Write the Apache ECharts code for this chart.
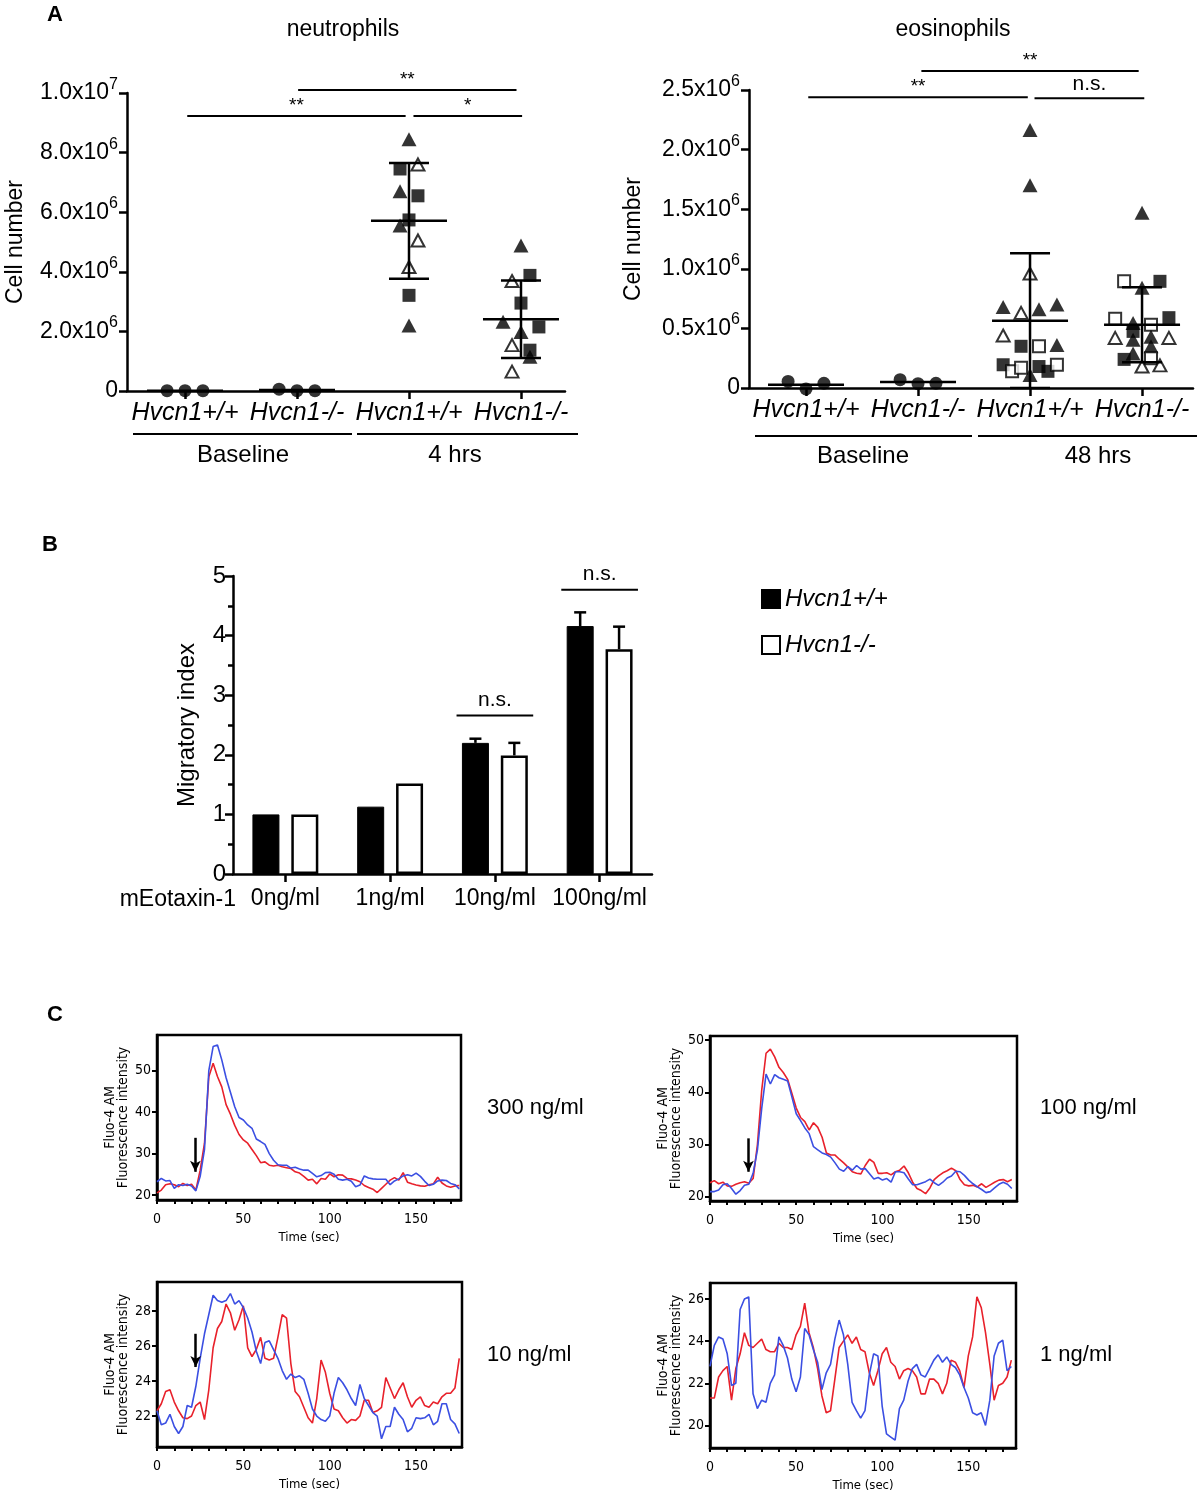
<!DOCTYPE html>
<html><head><meta charset="utf-8">
<script src="https://cdn.jsdelivr.net/npm/echarts@6/dist/echarts.min.js"></script>
<style>html,body{margin:0;padding:0;background:#fff}#c{width:1200px;height:1504px}</style>
</head><body><div id="c"></div>
<script>
const FONT = 'Liberation Sans, Arial, sans-serif';
const NARROW = '"Liberation Sans Narrow", "DejaVu Sans Condensed", sans-serif';

// ---------- Panel A ----------
const groupLabels = ['Hvcn1+/+', 'Hvcn1-/-', 'Hvcn1+/+', 'Hvcn1-/-'];
// [group, column slot, value (x10^6 cells), shape]
const neutPoints = [
  [0,-2,0.01,'fc'],[0,0,0.01,'fc'],[0,2,0.01,'fc'],
  [1,-2,0.06,'fc'],[1,0,0.01,'fc'],[1,2,0.01,'fc'],
  [2,0,8.45,'ft'],[2,-1,7.45,'fs'],[2,1,7.6,'ot'],[2,-1,6.7,'ft'],[2,1,6.55,'fs'],
  [2,0,5.74,'fs'],[2,-1,5.55,'ft'],[2,1,5.05,'ot'],[2,0,4.16,'ot'],[2,0,3.21,'fs'],[2,0,2.2,'ft'],
  [3,0,4.88,'ft'],[3,1,3.88,'fs'],[3,-1,3.69,'ot'],[3,0,2.95,'fs'],[3,-2,2.32,'ft'],
  [3,2,2.15,'fs'],[3,0,1.98,'ft'],[3,-1,1.54,'ot'],[3,1,1.37,'fs'],[3,1,1.15,'ft'],[3,-1,0.65,'ot']
];
// [group, mean, sd]
const neutStats = [[0,0.01,0],[1,0.03,0],[2,5.71,1.94],[3,2.41,1.30]];
// [from, to, y]
const neutSig = [[0.02,1.97,9.23],[1.01,2.96,10.1],[2.04,3.01,9.23]];
const neutSigText = ['**','**','*'];

const eosPoints = [
  [0,-2,0.055,'fc'],[0,0,-0.008,'fc'],[0,2,0.04,'fc'],
  [1,-2,0.07,'fc'],[1,0,0.036,'fc'],[1,2,0.04,'fc'],
  [2,0,2.165,'ft'],[2,0,1.70,'ft'],[2,0,0.96,'ot'],[2,-3,0.68,'ft'],[2,-1,0.63,'ot'],
  [2,1,0.66,'ft'],[2,3,0.70,'ft'],[2,-3,0.44,'ot'],[2,-1,0.35,'fs'],[2,1,0.35,'os'],
  [2,3,0.36,'ft'],[2,-3,0.195,'fs'],[2,-2,0.14,'os'],[2,-1,0.17,'os'],[2,0,0.11,'ft'],
  [2,1,0.18,'fs'],[2,2,0.14,'fs'],[2,3,0.195,'os'],
  [3,0,1.47,'ft'],[3,-2,0.895,'os'],[3,2,0.895,'fs'],[3,0,0.84,'ft'],[3,-3,0.58,'os'],
  [3,3,0.59,'fs'],[3,1,0.53,'os'],[3,-1,0.545,'ft'],[3,-1,0.475,'fs'],[3,-3,0.42,'ot'],
  [3,-1,0.405,'ft'],[3,1,0.43,'ft'],[3,3,0.42,'ot'],[3,1,0.35,'ft'],[3,-1,0.29,'ft'],
  [3,-2,0.24,'fs'],[3,1,0.25,'os'],[3,0,0.18,'ot'],[3,2,0.19,'ot']
];
const eosStats = [[0,0.028,0],[1,0.05,0],[2,0.564,0.566],[3,0.53,0.315]];
const eosSig = [[0.02,1.98,2.44],[1.03,2.97,2.66],[2.04,3.02,2.43]];
const eosSigText = ['**','**','n.s.'];

// ---------- Panel B ----------
const doseLabels = ['0ng/ml','1ng/ml','10ng/ml','100ng/ml'];
const wtIndex = [1.0, 1.13, 2.20, 4.16];
const wtErr = [0, 0, 0.07, 0.23];
const koIndex = [1.0, 1.52, 1.99, 3.77];
const koErr = [0, 0, 0.21, 0.38];
const bSig = [[2,2.66],[3,4.77]];

// ---------- Panel C ----------
const timeSec = [0,2.5,5,7.5,10,12.5,15,17.5,20,22.5,25,27.5,30,32.5,35,37.5,40,42.5,45,47.5,50,52.5,55,57.5,60,62.5,65,67.5,70,72.5,75,77.5,80,82.5,85,87.5,90,92.5,95,97.5,100,102.5,105,107.5,110,112.5,115,117.5,120,122.5,125,127.5,130,132.5,135,137.5,140,142.5,145,147.5,150,152.5,155,157.5,160,162.5,165,167.5,170,172.5,175];
const c300Red = [20.5,21.2,22.5,22.7,22.5,22.0,22.8,22.3,22.6,21.2,
  26.0,32.5,48.5,51.8,48.6,46.1,41.8,39.5,36.8,34.6,
  33.3,32.5,31.0,29.5,27.8,28.0,27.2,27.0,27.2,26.8,
  26.6,26.4,25.6,25.3,24.5,23.6,23.8,22.7,24.0,23.8,
  25.1,24.4,24.9,24.8,24.0,23.9,23.6,23.2,22.3,21.8,
  21.4,20.6,21.6,22.6,23.6,24.2,23.6,25.4,23.1,22.7,
  22.4,22.2,22.1,22.5,22.7,24.3,22.9,22.2,21.9,22.2,22.3];
const c300Blue = [23.2,24.0,23.4,23.5,21.6,22.5,22.3,22.6,22.2,21.0,
  24.5,31.0,50.0,55.8,56.2,52.6,48.3,44.8,41.3,38.7,
  38.1,36.9,36.1,33.5,32.9,32.2,30.0,28.4,27.3,27.2,
  27.2,26.5,26.7,26.3,26.0,26.0,25.2,24.4,24.7,25.4,
  25.5,25.0,23.8,23.6,23.8,23.3,22.0,22.4,24.6,24.1,
  23.9,23.8,23.8,23.8,22.5,23.4,23.9,24.6,24.9,24.6,
  25.3,24.5,23.3,22.3,22.6,23.4,23.6,23.5,22.8,22.5,21.5];
const c100Red = [22.7,23.1,22.5,22.8,22.1,22.0,22.4,22.7,22.9,22.6,
  23.5,30.0,40.5,47.5,48.3,46.8,44.8,43.8,42.5,39.8,
  37.0,35.2,34.4,32.8,34.2,33.3,31.4,28.4,28.0,28.0,
  27.2,26.5,25.7,24.8,24.5,24.4,26.0,27.2,26.6,24.5,
  24.5,24.6,24.2,24.8,25.1,25.9,24.6,22.8,21.6,21.2,
  20.6,21.7,23.3,24.0,24.6,25.0,25.5,25.0,23.3,22.3,
  22.1,22.2,21.9,22.5,21.8,22.3,22.8,23.2,23.3,22.9,23.3];
const c100Blue = [21.0,21.0,21.3,22.3,22.5,21.6,20.5,21.2,22.2,22.4,
  24.5,29.0,37.0,43.5,41.6,43.4,42.8,42.5,42.2,39.1,
  35.9,34.6,33.2,32.1,29.6,29.0,28.4,28.1,27.6,26.5,
  25.3,24.9,25.8,25.1,26.0,25.3,25.4,24.4,23.4,23.7,
  23.2,23.5,22.8,24.8,24.8,24.6,23.4,22.3,22.3,22.6,
  22.9,23.4,22.7,22.2,22.8,23.6,24.0,24.9,24.8,24.1,
  23.2,22.5,21.9,21.4,20.8,21.0,21.7,22.4,22.8,22.4,21.6];
const c10Red = [22.3,22.7,23.4,23.5,22.8,22.3,21.9,21.85,22.0,22.6,
  22.8,21.8,23.5,25.9,27.0,27.4,28.4,27.9,26.9,27.5,
  28.3,25.9,25.4,25.8,26.5,25.3,25.2,25.3,26.5,27.8,
  27.6,25.0,23.4,23.1,22.5,21.9,21.6,23.0,25.2,24.5,
  23.3,22.4,22.3,21.9,21.6,21.8,21.75,22.0,22.9,22.9,
  22.2,22.3,22.5,24.2,23.6,23.0,23.5,23.9,23.1,22.5,
  22.9,23.1,22.6,22.5,22.8,22.7,23.1,23.3,23.3,23.6,25.3];
const c10Blue = [22.3,21.5,21.6,22.1,21.4,21.0,21.4,22.6,22.5,23.7,
  25.3,26.7,27.8,28.9,28.6,28.5,28.6,29.0,28.4,28.6,
  28.2,27.6,26.8,25.7,25.0,26.2,26.3,25.8,25.3,24.6,
  24.1,24.4,24.2,24.3,24.1,23.3,22.4,22.0,21.8,21.7,
  22.0,23.3,24.2,23.9,23.5,23.0,22.6,23.8,23.0,22.6,
  22.2,22.0,20.7,21.4,21.4,22.5,22.1,21.8,21.1,21.3,
  21.9,21.85,21.9,22.1,21.5,21.7,22.7,22.7,21.8,21.55,21.0];
const c1Red = [21.3,21.3,22.3,22.6,22.8,21.2,22.7,23.4,24.4,23.8,
  23.7,23.9,24.1,23.6,23.5,23.5,23.9,23.7,23.7,23.6,
  24.3,24.7,25.8,24.4,23.7,22.7,21.4,20.6,20.7,22.2,
  23.7,24.0,24.3,23.9,24.2,23.6,23.5,22.5,21.9,22.6,
  23.4,23.7,23.0,22.8,22.2,22.6,22.7,22.6,22.3,21.5,
  21.5,22.2,22.2,22.0,21.5,22.0,23.1,23.0,22.6,21.8,
  23.3,24.2,26.1,25.6,24.4,22.9,21.2,21.9,22.0,22.3,23.1];
const c1Blue = [22.8,23.8,24.2,24.1,23.4,21.9,22.0,25.5,26.0,26.1,
  21.5,20.8,21.2,21.1,22.0,22.4,24.2,23.8,23.2,22.2,
  21.6,22.3,24.6,24.3,23.6,23.0,21.7,22.5,22.9,24.1,
  25.0,24.3,22.9,21.1,20.7,20.35,20.7,22.4,23.4,23.3,
  20.9,19.6,19.45,19.3,20.8,21.2,22.1,22.7,22.9,22.4,
  22.3,22.7,23.1,23.35,23.0,23.25,22.9,22.75,22.4,21.8,
  21.3,20.6,20.5,20.6,20.0,21.2,23.3,23.9,24.05,22.6,22.8];
// arrows: [time, from, to]
const arrows = [[22.2,33.8,25.6],[22.3,31.2,24.8],[22.4,26.7,24.8],null];
const cTicksX = [0,10,20,30,40,50,60,70,80,90,100,110,120,130,140,150,160,170];
const cLabelsX = [0,50,100,150];

// ---------- helpers ----------
const SLOT = 0.08;
const SHAPES = {
  fc:{symbol:'circle', size:13, fill:'#000'},
  ft:{symbol:'triangle', size:[15,14], fill:'#000'},
  fs:{symbol:'rect', size:13, fill:'#000'},
  ot:{symbol:'triangle', size:[13,12], fill:'#fff'},
  os:{symbol:'rect', size:12, fill:'#fff'}
};
function pointItems(pts){
  return pts.map(p => {
    const s = SHAPES[p[3]];
    return {value:[p[0] + p[1]*SLOT, p[2]], symbol:s.symbol, symbolSize:s.size,
      itemStyle:{color:s.fill, borderColor:'#000', borderWidth: s.fill === '#fff' ? 2 : 0}};
  });
}
function statsRender(params, api){
  const g = api.value(0), m = api.value(1), sd = api.value(2);
  const c = api.coord([g, m]);
  const st = {stroke:'#000', lineWidth:2.5};
  const ch = [{type:'line', shape:{x1:c[0]-38, y1:c[1], x2:c[0]+38, y2:c[1]}, style:st}];
  if (sd > 0){
    const t = api.coord([g, m+sd]), b = api.coord([g, Math.max(m-sd, 0)]);
    ch.push({type:'line', shape:{x1:c[0], y1:t[1], x2:c[0], y2:b[1]}, style:st});
    ch.push({type:'line', shape:{x1:c[0]-20, y1:t[1], x2:c[0]+20, y2:t[1]}, style:st});
    ch.push({type:'line', shape:{x1:c[0]-20, y1:b[1], x2:c[0]+20, y2:b[1]}, style:st});
  }
  return {type:'group', children:ch};
}
function sigRender(texts){
  return function(params, api){
    const p1 = api.coord([api.value(0), api.value(2)]), p2 = api.coord([api.value(1), api.value(2)]);
    const txt = texts[params.dataIndex];
    const isNs = txt === 'n.s.';
    return {type:'group', children:[
      {type:'line', shape:{x1:p1[0], y1:p1[1], x2:p2[0], y2:p1[1]}, style:{stroke:'#000', lineWidth:2}},
      {type:'text', x:(p1[0]+p2[0])/2, y:p1[1] - (isNs ? 4 : 1), style:{text:txt, fill:'#000',
        fontSize: isNs ? 21 : 19, fontFamily:FONT, align:'center', verticalAlign:'bottom',
        textAlign:'center', textVerticalAlign:'bottom'}}
    ]};
  };
}
function fmtNeut(v){
  if (Math.abs(v) < 1e-9) return '{b|0}';
  if (v >= 9.99) return '{b|' + (v/10).toFixed(1) + 'x10}{s|7}';
  return '{b|' + v.toFixed(1) + 'x10}{s|6}';
}
function fmtEos(v){
  if (Math.abs(v) < 1e-9) return '{b|0}';
  return '{b|' + v.toFixed(1) + 'x10}{s|6}';
}
const RICH = {b:{fontSize:23, fontFamily:FONT, color:'#000'}, s:{fontSize:16, fontFamily:FONT, color:'#000', padding:[0,0,17,0]}};
const AX = {color:'#000', width:2.5};

function aXAxis(gi, min, max){
  return {gridIndex:gi, type:'value', min:min, max:max,
    axisLine:{show:true, onZero:false, lineStyle:AX},
    axisTick:{show:true, customValues:[0,1,2,3], length:8, lineStyle:AX},
    axisLabel:{customValues:[0,1,2,3], formatter:v => groupLabels[Math.round(v)], fontSize:25,
      fontStyle:'italic', color:'#000', fontFamily:FONT, margin:10},
    splitLine:{show:false}};
}
function aYAxis(gi, max, interval, fmt, gap){
  return {gridIndex:gi, type:'value', min:0, max:max, interval:interval,
    axisLine:{show:true, onZero:false, lineStyle:AX},
    axisTick:{show:true, length:8, lineStyle:AX},
    axisLabel:{formatter:fmt, rich:RICH, margin:9},
    splitLine:{show:false},
    name:'Cell number', nameLocation:'middle', nameGap:gap,
    nameTextStyle:{fontSize:23, color:'#000', fontFamily:FONT}};
}

// ---------- Panel C config ----------
const cPanels = [
  {grid:{left:157, top:1035, width:304, height:165}, xmax:176, ymin:18.8, ymax:58.6, yt:[20,30,40,50], red:c300Red, blue:c300Blue},
  {grid:{left:710, top:1036, width:307, height:165}, xmax:178, ymin:19.2, ymax:50.8, yt:[20,30,40,50], red:c100Red, blue:c100Blue},
  {grid:{left:157, top:1282, width:305, height:165}, xmax:176.6, ymin:20.23, ymax:29.66, yt:[22,24,26,28], red:c10Red, blue:c10Blue},
  {grid:{left:710, top:1283, width:306, height:165}, xmax:177.7, ymin:18.93, ymax:26.76, yt:[20,22,24,26], red:c1Red, blue:c1Blue}
];

const grids = [
  {left:127, top:93, width:438, height:298},
  {left:749, top:90, width:444, height:298},
  {left:233, top:576, width:419, height:298}
];
const xAxes = [aXAxis(0, -0.518, 3.393), aXAxis(1, -0.509, 3.455),
  {gridIndex:2, type:'category', data:doseLabels,
    axisLine:{show:true, onZero:false, lineStyle:AX},
    axisTick:{show:true, alignWithLabel:true, length:8, lineStyle:AX},
    axisLabel:{interval:0, fontSize:23, color:'#000', fontFamily:FONT, margin:13}}];
const yAxes = [aYAxis(0, 10, 2, fmtNeut, 100), aYAxis(1, 2.5, 0.5, fmtEos, 104),
  {gridIndex:2, type:'value', min:0, max:5, interval:1,
    axisLine:{show:true, onZero:false, lineStyle:AX},
    axisTick:{show:true, length:8, lineStyle:AX},
    minorTick:{show:true, splitNumber:2, length:5, lineStyle:AX},
    axisLabel:{fontSize:24, color:'#000', fontFamily:FONT, margin:7},
    splitLine:{show:false}, minorSplitLine:{show:false},
    name:'Migratory index', nameLocation:'middle', nameGap:34,
    nameTextStyle:{fontSize:24, color:'#000', fontFamily:FONT}}];

const series = [
  {type:'scatter', xAxisIndex:0, yAxisIndex:0, data:pointItems(neutPoints), clip:false, z:3},
  {type:'custom', xAxisIndex:0, yAxisIndex:0, data:neutStats, renderItem:statsRender, encode:{x:0, y:1}, z:4},
  {type:'custom', xAxisIndex:0, yAxisIndex:0, data:neutSig, renderItem:sigRender(neutSigText), encode:{x:[0,1], y:2}, clip:false},
  {type:'scatter', xAxisIndex:1, yAxisIndex:1, data:pointItems(eosPoints), clip:false, z:3},
  {type:'custom', xAxisIndex:1, yAxisIndex:1, data:eosStats, renderItem:statsRender, encode:{x:0, y:1}, z:4},
  {type:'custom', xAxisIndex:1, yAxisIndex:1, data:eosSig, renderItem:sigRender(eosSigText), encode:{x:[0,1], y:2}, clip:false},
  {name:'Hvcn1+/+', type:'bar', xAxisIndex:2, yAxisIndex:2, data:wtIndex, barWidth:27, barGap:'44%',
    itemStyle:{color:'#000', borderColor:'#000', borderWidth:1}},
  {name:'Hvcn1-/-', type:'bar', xAxisIndex:2, yAxisIndex:2, data:koIndex, barWidth:27, barGap:'44%',
    itemStyle:{color:'#fff', borderColor:'#000', borderWidth:2.5}},
  {type:'custom', xAxisIndex:2, yAxisIndex:2, encode:{x:0, y:1},
    data: wtIndex.map((v,i)=>[i, v, wtErr[i], -1]).concat(koIndex.map((v,i)=>[i, v, koErr[i], 1])),
    renderItem:function(params, api){
      const e = api.value(2); if (!(e > 0)) return null;
      const base = api.coord([api.value(0), api.value(1)]);
      const top = api.coord([api.value(0), api.value(1) + e]);
      const x = base[0] + api.value(3) * 19.45;
      const st = {stroke:'#000', lineWidth:2.5};
      return {type:'group', children:[
        {type:'line', shape:{x1:x, y1:base[1], x2:x, y2:top[1]}, style:st},
        {type:'line', shape:{x1:x-6, y1:top[1], x2:x+6, y2:top[1]}, style:st}]};
    }, z:3},
  {type:'custom', xAxisIndex:2, yAxisIndex:2, encode:{x:0, y:1}, data:bSig, clip:false,
    renderItem:function(params, api){
      const c = api.coord([api.value(0), api.value(1)]);
      const hw = api.size([1, 0])[0] * 0.366;
      return {type:'group', children:[
        {type:'line', shape:{x1:c[0]-hw, y1:c[1], x2:c[0]+hw, y2:c[1]}, style:{stroke:'#000', lineWidth:2}},
        {type:'text', x:c[0], y:c[1]-5, style:{text:'n.s.', fill:'#000', fontSize:21, fontFamily:FONT,
          align:'center', verticalAlign:'bottom', textAlign:'center', textVerticalAlign:'bottom'}}]};
    }}
];

cPanels.forEach((p, k) => {
  const gi = 3 + k;
  grids.push(Object.assign({show:true, borderColor:'#000', borderWidth:2.5, backgroundColor:'rgba(0,0,0,0)'}, p.grid));
  xAxes.push({gridIndex:gi, type:'value', min:0, max:p.xmax,
    axisLine:{show:true, onZero:false, lineStyle:AX},
    axisTick:{show:true, customValues:cTicksX, length:4, lineStyle:{color:'#000', width:2}},
    axisLabel:{customValues:cLabelsX, fontSize:14, fontFamily:NARROW, color:'#000', margin:12},
    splitLine:{show:false},
    name:'Time (sec)', nameLocation:'middle', nameGap:31,
    nameTextStyle:{fontSize:13, fontFamily:NARROW, color:'#000'}});
  yAxes.push({gridIndex:gi, type:'value', min:p.ymin, max:p.ymax,
    axisLine:{show:true, onZero:false, lineStyle:AX},
    axisTick:{show:true, customValues:p.yt, length:5, lineStyle:{color:'#000', width:2}},
    axisLabel:{customValues:p.yt, fontSize:14, fontFamily:NARROW, color:'#000', margin:6},
    splitLine:{show:false},
    name:'Fluo-4 AM\nFluorescence intensity', nameLocation:'middle', nameGap:27,
    nameTextStyle:{fontSize:14, lineHeight:13, fontFamily:NARROW, color:'#000'}});
  const redS = {type:'line', xAxisIndex:gi, yAxisIndex:gi, data:timeSec.map((t,i)=>[t, p.red[i]]),
    showSymbol:false, symbol:'none', lineStyle:{color:'#e8212b', width:1.6}, itemStyle:{color:'#e8212b'}};
  const blueS = {type:'line', xAxisIndex:gi, yAxisIndex:gi, data:timeSec.map((t,i)=>[t, p.blue[i]]),
    showSymbol:false, symbol:'none', lineStyle:{color:'#3b4fe2', width:1.6}, itemStyle:{color:'#3b4fe2'}};
  const a = arrows[k];
  if (a){
    redS.markLine = {silent:true, symbol:['none','arrow'], symbolSize:[8,11], animation:false,
      lineStyle:{color:'#000', width:2.5, type:'solid'}, label:{show:false},
      data:[[{coord:[a[0], a[1]]}, {coord:[a[0], a[2]]}]]};
  }
  series.push(redS, blueS);
});

function txt(x, y, text, o){
  o = o || {};
  return {type:'text', x:x, y:y, style:{text:text, fill:'#000', fontSize:o.size || 22,
    fontFamily:FONT, fontWeight:o.weight || 'normal', fontStyle:o.style || 'normal',
    align:o.align || 'center', verticalAlign:'middle', textAlign:o.align || 'center', textVerticalAlign:'middle'}};
}
function hline(x1, x2, y){
  return {type:'line', shape:{x1:x1, y1:y, x2:x2, y2:y}, style:{stroke:'#000', lineWidth:2}};
}
const graphics = [
  txt(55, 15, 'A', {weight:'bold', size:22}),
  txt(343, 30, 'neutrophils', {size:23}),
  txt(953, 30, 'eosinophils', {size:23}),
  hline(133, 352, 434), hline(357, 578, 434),
  hline(755, 972, 436), hline(978, 1197, 436),
  txt(243, 455, 'Baseline', {size:24}), txt(455, 455, '4 hrs', {size:24}),
  txt(863, 456, 'Baseline', {size:24}), txt(1098, 456, '48 hrs', {size:24}),
  txt(50, 545, 'B', {weight:'bold', size:22}),
  txt(236, 900, 'mEotaxin-1', {size:23, align:'right'}),
  txt(55, 1015, 'C', {weight:'bold', size:22}),
  txt(487, 1108, '300 ng/ml', {size:22, align:'left'}),
  txt(1040, 1108, '100 ng/ml', {size:22, align:'left'}),
  txt(487, 1355, '10 ng/ml', {size:22, align:'left'}),
  txt(1040, 1355, '1 ng/ml', {size:22, align:'left'})
];
grids.forEach(g => { g.containLabel = false; g.outerBoundsMode = 'none'; });

const chart = echarts.init(document.getElementById('c'), null, {renderer:'canvas', width:1200, height:1504});
chart.setOption({
  backgroundColor:'#fff',
  animation:false,
  textStyle:{fontFamily:FONT},
  grid:grids, xAxis:xAxes, yAxis:yAxes, series:series,
  legend:{data:['Hvcn1+/+','Hvcn1-/-'], orient:'vertical', left:756, top:582, itemWidth:18, itemHeight:18,
    itemGap:22, icon:'rect', selectedMode:false,
    textStyle:{fontSize:24, fontStyle:'italic', color:'#000', fontFamily:FONT}},
  graphic:graphics
});
</script></body></html>
